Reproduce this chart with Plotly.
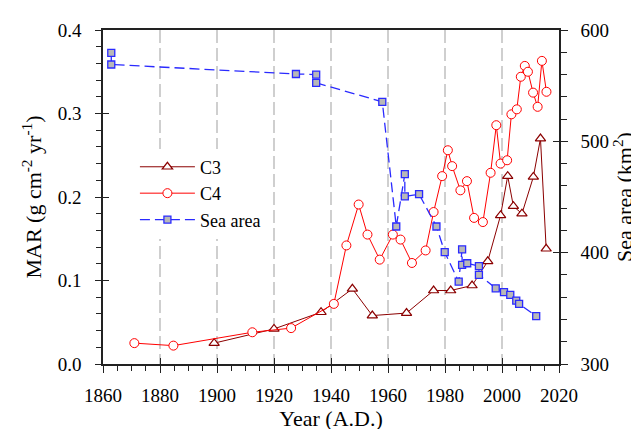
import plotly.graph_objects as go

# ---- data ----
years_c3 = [1899, 1920, 1936.5, 1947.5, 1954.5, 1966.5, 1976, 1982, 1989.5, 1995,
            1999.5, 2002, 2004, 2007, 2011, 2013.5, 2015.5]
c3 = [0.025, 0.042, 0.062, 0.090, 0.058, 0.061, 0.088, 0.088, 0.094, 0.123,
      0.178, 0.225, 0.189, 0.180, 0.224, 0.270, 0.138]

years_c4 = [1871, 1884.7, 1912.4, 1926, 1941, 1945.4, 1949.7, 1952.8, 1957.1, 1961.7,
            1964.4, 1968.4, 1973.2, 1976, 1979, 1981, 1982.5, 1985.4, 1987.7, 1990.2,
            1993.3, 1996, 1998, 1999.5, 2001.8, 2003.3, 2005.2, 2006.6, 2008, 2009.1,
            2010.9, 2012.5, 2014, 2015.6]
c4 = [0.025, 0.022, 0.038, 0.043, 0.072, 0.142, 0.191, 0.155, 0.125, 0.155,
      0.149, 0.121, 0.136, 0.182, 0.225, 0.256, 0.237, 0.208, 0.219, 0.175,
      0.170, 0.229, 0.286, 0.240, 0.244, 0.299, 0.305, 0.344, 0.357, 0.350,
      0.325, 0.308, 0.363, 0.326]

years_sea = [1862.9, 1862.9, 1927.7, 1934.8, 1934.8, 1958, 1962.9, 1965.9, 1965.9, 1970.9,
             1977, 1979.9, 1984.8, 1986, 1986, 1987.8, 1991.9, 1991.9, 1997.8, 2000.7,
             2002.9, 2005, 2006, 2012]
sea_area = [579.5, 569, 560.5, 560, 552.5, 535.5, 423.5, 470.5, 450.5, 452.5,
            423.5, 400.5, 374, 403, 389, 390.5, 388, 380, 368, 364.5,
            362, 357, 354, 343]

x_range = [1860, 2020]
mar_range = [0, 0.4]
sea_range = [300, 600]

FONT = "Liberation Serif"
AX = "#222222"

fig = go.Figure()

fig.add_trace(go.Scatter(
    x=years_c3, y=c3, name="C3", mode="lines+markers",
    line=dict(color="#8B0000", width=1),
    marker=dict(symbol="triangle-up", size=9, color="white",
                line=dict(color="#8B0000", width=1.2)),
))
fig.add_trace(go.Scatter(
    x=years_c4, y=c4, name="C4", mode="lines+markers",
    line=dict(color="#FF0000", width=1),
    marker=dict(symbol="circle", size=9, color="white",
                line=dict(color="#FF0000", width=1)),
))
fig.add_trace(go.Scatter(
    x=years_sea, y=sea_area, name="Sea area", mode="lines+markers", yaxis="y2",
    line=dict(color="#2a2aff", width=1.3, dash="10px,5px"),
    marker=dict(symbol="square", size=7, color="#b8b8b8",
                line=dict(color="#2a2aff", width=1.3)),
))
# empty helper traces so the inward-tick overlay axes are drawn
fig.add_trace(go.Scatter(x=[], y=[], xaxis="x2", yaxis="y3", showlegend=False, hoverinfo="skip"))
fig.add_trace(go.Scatter(x=[], y=[], xaxis="x2", yaxis="y4", showlegend=False, hoverinfo="skip"))


def tf():
    return dict(family=FONT, size=19, color="black")


def ttf():
    return dict(family=FONT, size=22, color="black")


fig.update_layout(
    width=639, height=429,
    margin=dict(l=95, r=88, t=22, b=67),
    plot_bgcolor="white", paper_bgcolor="white",
    font=dict(family=FONT, color="black", size=18),
    showlegend=True,
    legend=dict(x=0.07, y=0.645, xanchor="left", yanchor="top",
                bgcolor="white", font=dict(family=FONT, size=18, color="black"),
                itemwidth=55, tracegroupgap=0),
    xaxis=dict(
        range=x_range, dtick=20, tick0=1860, showgrid=True,
        gridcolor="#cfcfcf", gridwidth=2, griddash="13px,5px",
        showline=True, linecolor=AX, linewidth=1.5, mirror=True,
        ticks="outside", ticklen=7, tickwidth=1.2, tickcolor=AX,
        minor=dict(dtick=5, ticks="outside", ticklen=5, tickwidth=1, tickcolor=AX, showgrid=False),
        tickfont=tf(), ticklabelstandoff=6, zeroline=False,
        title=dict(text="Year (A.D.)", font=ttf(), standoff=4),
    ),
    xaxis2=dict(
        range=x_range, dtick=20, tick0=1860, overlaying="x", anchor="y", side="bottom",
        showgrid=False, showline=False, zeroline=False, showticklabels=False,
        ticks="inside", ticklen=6, tickwidth=1.2, tickcolor=AX,
    ),
    yaxis=dict(
        range=mar_range, dtick=0.1, tickformat=".1f", showgrid=False, zeroline=False,
        showline=True, linecolor=AX, linewidth=1.5,
        ticks="outside", ticklen=6, tickwidth=1.2, tickcolor=AX,
        minor=dict(dtick=0.02, ticks="outside", ticklen=5, tickwidth=1, tickcolor=AX, showgrid=False),
        tickfont=tf(), ticklabelstandoff=10,
        title=dict(text="MAR (g cm<sup>-2</sup> yr<sup>-1</sup>)", font=ttf(), standoff=10),
    ),
    yaxis2=dict(
        range=sea_range, dtick=100, overlaying="y", side="right", anchor="x",
        showgrid=False, zeroline=False,
        showline=True, linecolor=AX, linewidth=1.5,
        ticks="outside", ticklen=7, tickwidth=1.2, tickcolor=AX,
        minor=dict(dtick=20, ticks="outside", ticklen=6, tickwidth=1, tickcolor=AX, showgrid=False),
        tickfont=tf(), ticklabelstandoff=9,
        title=dict(text="Sea area (km<sup>2</sup>)", font=ttf(), standoff=8),
    ),
    yaxis3=dict(
        range=mar_range, dtick=0.1, overlaying="y", side="left", anchor="x2",
        showgrid=False, showline=False, zeroline=False, showticklabels=False,
        ticks="inside", ticklen=6, tickwidth=1.2, tickcolor=AX,
    ),
    yaxis4=dict(
        range=sea_range, dtick=100, overlaying="y", side="right", anchor="x2",
        showgrid=False, showline=False, zeroline=False, showticklabels=False,
        ticks="inside", ticklen=6, tickwidth=1.2, tickcolor=AX,
    ),
)

fig.write_html("out.html")
